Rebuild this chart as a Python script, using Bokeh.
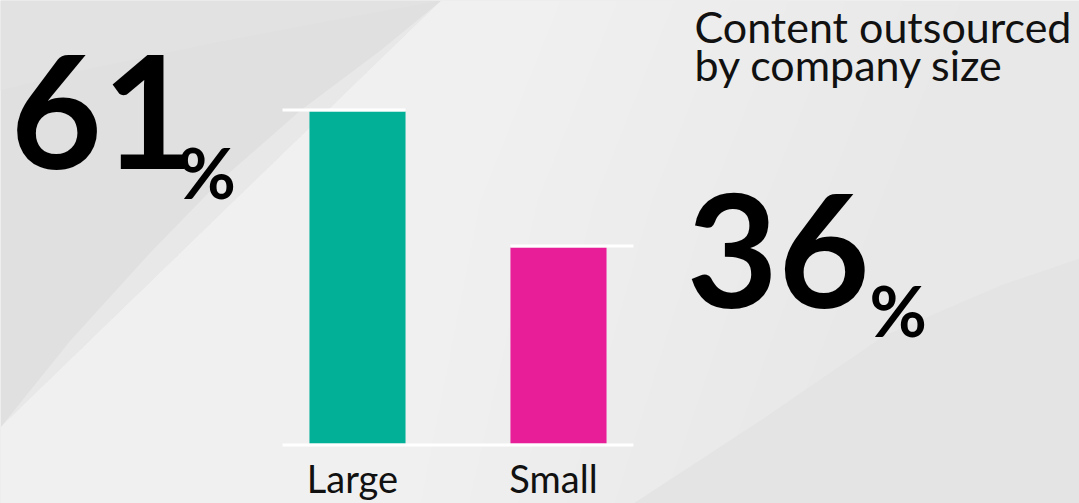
from bokeh.plotting import figure
from bokeh.models import Range1d
from bokeh.core.properties import value
from bokeh.embed import file_html
from bokeh.resources import INLINE

# ---- data ----
categories = ["Large", "Small"]
percentages = [61, 36]
bar_colors = ["#02B098", "#E81E98"]
title_lines = ["Content outsourced", "by company size"]

W, H = 1079, 503
p = figure(width=W, height=H, output_backend="svg", toolbar_location=None,
           x_range=Range1d(0, W), y_range=Range1d(0, H),
           x_axis_type=None, y_axis_type=None, min_border=0)
p.grid.visible = False
p.outline_line_color = None
p.background_fill_color = "#e8e8e8"
p.border_fill_color = "#e8e8e8"

def fy(py):
    return H - py

def base(py, size):
    # compensate svg baseline offset
    return H - (py - 0.36 * size)

# ---- background decoration: soft light swath ----
band_cols = ["#e9e9e9", "#eaeaea", "#ebebeb", "#ececec", "#ededed", "#eeeeee", "#efefef", "#f0f0f0"]
nb = len(band_cols)
for k, c in enumerate(band_cols):
    t = k / (nb - 1)
    xt = 960 - t * (960 - 560)   # top edge of band
    xb = 760 - t * (760 - 420)   # bottom edge of band
    p.patch([441, xt, xt - 80, xb, 0, 0],
            [fy(0), fy(0), fy(200), fy(503), fy(503), fy(427)],
            fill_color=c, line_color=None)
# dark upper-left area
p.patch([0, 441, 380, 300, 220, 150, 70, 0],
        [fy(0), fy(0), fy(50), fy(110), fy(180), fy(252), fy(340), fy(427)],
        fill_color="#e0e0e0", line_color=None)
p.patch([0, 441, 330, 200, 80, 0],
        [fy(0), fy(0), fy(20), fy(45), fy(70), fy(90)],
        fill_color="#e2e2e2", line_color=None)
# darker lower-right
p.patch([633, 760, 884, 1000, 1079, 1079],
        [fy(503), fy(420), fy(335), fy(285), fy(258), fy(503)],
        fill_color="#e4e4e4", line_color=None)

# ---- bar scales (extra ranges) ----
n = len(categories)
idx = list(range(n))
pad = 0.373
bar_w = 0.478
p.extra_x_ranges = {"cat": Range1d(-1.776, 3.592)}
y0, y1 = -11.02, 81.39
p.extra_y_ranges = {"val": Range1d(y0, y1)}
ppu = H / (y1 - y0)
off = 1.5 / ppu

p.vbar(x=idx, top=percentages, bottom=0, width=bar_w, fill_color=bar_colors,
       line_color=None, x_range_name="cat", y_range_name="val")

# white reference lines
sx0, sx1, sy = [], [], []
for i, v in zip(idx, percentages):
    if i == 0:
        sx0.append(-pad); sx1.append(i + bar_w / 2)
    else:
        sx0.append(i - bar_w / 2); sx1.append(n - 1 + pad)
    sy.append(v + off)
p.segment(x0=sx0, x1=sx1, y0=sy, y1=sy, line_color="white", line_width=3,
          x_range_name="cat", y_range_name="val")
p.segment(x0=[-pad], x1=[n - 1 + pad], y0=[-off], y1=[-off], line_color="white",
          line_width=3, x_range_name="cat", y_range_name="val")

# category labels
p.text(x=[i - 0.025 for i in idx], y=[base(491, 38)] * n, text=categories, x_range_name="cat",
       text_align="center", text_baseline="alphabetic",
       text_font=value("Lato"), text_font_size="38px", text_color="#111111")

# big numbers
p.text(x=[10, 686], y=[base(168, 158), base(307, 158)], text=[str(v) for v in percentages],
       text_align="left", text_baseline="alphabetic",
       text_font=value("Lato"), text_font_style="bold",
       text_font_size="158px", text_color="#000000")
p.text(x=[178, 869], y=[base(197, 70), base(335, 70)], text=["%"] * n,
       text_align="left", text_baseline="alphabetic",
       text_font=value("Lato"), text_font_style="bold",
       text_font_size="70px", text_color="#000000")

# title
p.text(x=[694, 694], y=[base(41, 43), base(79, 43)], text=title_lines,
       text_align="left", text_baseline="alphabetic",
       text_font=value("Lato"), text_font_size="43px", text_color="#111111")

open("out.html", "w").write(file_html(p, INLINE))
